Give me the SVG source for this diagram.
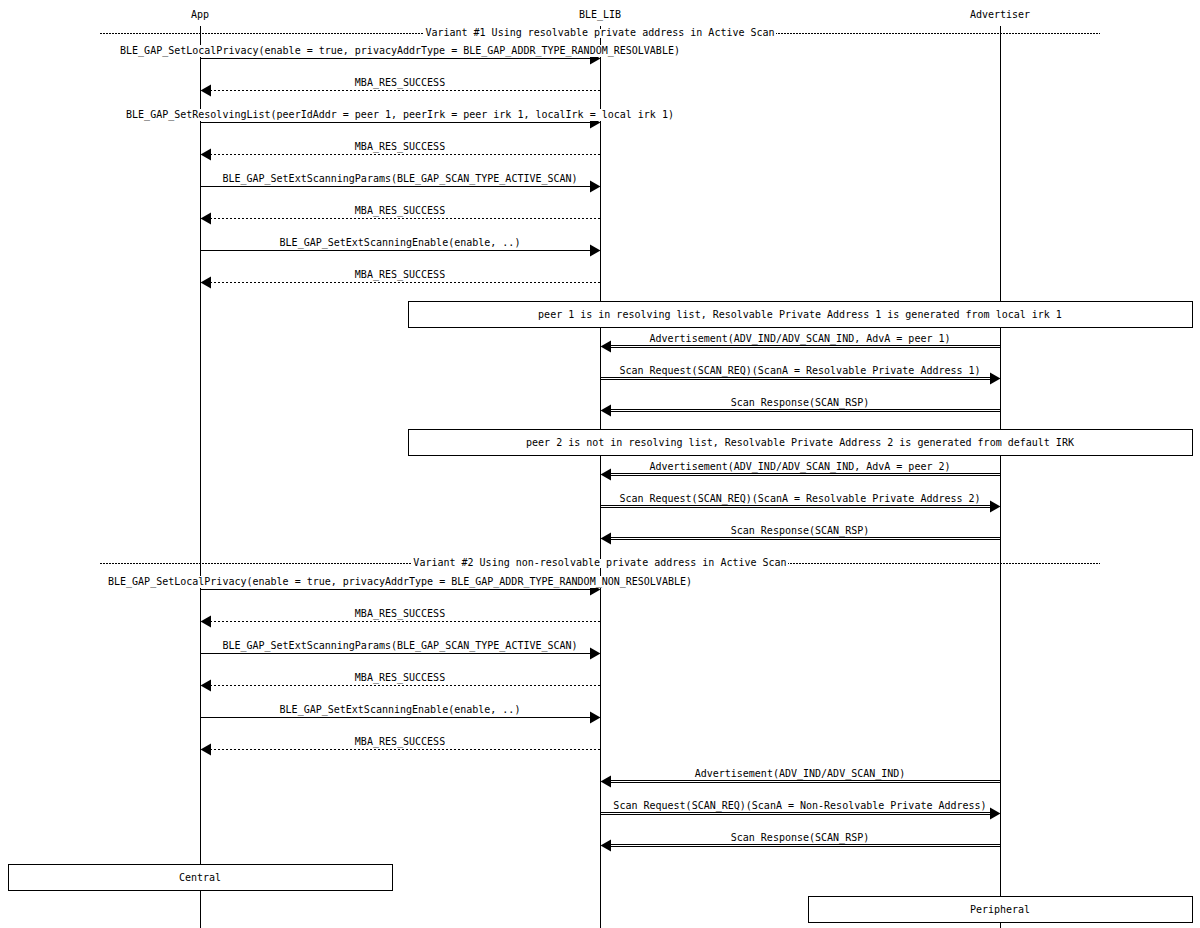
<svg xmlns="http://www.w3.org/2000/svg" width="1200" height="928" viewBox="0 0 1200 928">
<style>
text{font-family:"DejaVu Sans Mono","Liberation Mono",monospace;font-size:10px;fill:#000;text-anchor:middle}
.life{stroke:#000;stroke-width:1}
.sol{stroke:#000;stroke-width:1;fill:none}
.dash{stroke:#000;stroke-width:1;fill:none;stroke-dasharray:2,2}
.div{stroke:#000;stroke-width:1;fill:none;stroke-dasharray:2,1}
.bg{fill:#fff}
.box{fill:#fff;stroke:#000;stroke-width:1}
.head{fill:#000}
</style>
<rect width="1200" height="928" fill="#fff"/>
<g id="lifelines">
<g id="App"><text x="200" y="18">App</text><line class="life" x1="200.5" y1="26" x2="200.5" y2="928"/></g>
<g id="BLE_LIB"><text x="600" y="18">BLE_LIB</text><line class="life" x1="600.5" y1="26" x2="600.5" y2="928"/></g>
<g id="Advertiser"><text x="1000" y="18">Advertiser</text><line class="life" x1="1000.5" y1="26" x2="1000.5" y2="928"/></g>
</g>
<g id="divider1">
<line class="div" x1="100" y1="33.5" x2="1100" y2="33.5"/>
<rect class="bg" x="424" y="29" width="352" height="9"/>
<text x="600" y="36">Variant #1 Using resolvable private address in Active Scan</text>
</g>
<g id="connectors">
<line class="sol" x1="200.5" y1="58.5" x2="592" y2="58.5"/>
<polygon class="head" points="590,52.5 600.5,58.5 590,64.5"/>
<rect class="bg" x="118" y="45" width="564" height="12"/>
<text x="400" y="54">BLE_GAP_SetLocalPrivacy(enable = true, privacyAddrType = BLE_GAP_ADDR_TYPE_RANDOM_RESOLVABLE)</text>

<line class="dash" x1="600" y1="90.5" x2="208" y2="90.5"/>
<polygon class="head" points="211,84.5 200.5,90.5 211,96.5"/>
<text x="400" y="86">MBA_RES_SUCCESS</text>

<line class="sol" x1="200.5" y1="122.5" x2="592" y2="122.5"/>
<polygon class="head" points="590,116.5 600.5,122.5 590,128.5"/>
<rect class="bg" x="124" y="109" width="552" height="12"/>
<text x="400" y="118">BLE_GAP_SetResolvingList(peerIdAddr = peer 1, peerIrk = peer irk 1, localIrk = local irk 1)</text>

<line class="dash" x1="600" y1="154.5" x2="208" y2="154.5"/>
<polygon class="head" points="211,148.5 200.5,154.5 211,160.5"/>
<text x="400" y="150">MBA_RES_SUCCESS</text>

<line class="sol" x1="200.5" y1="186.5" x2="592" y2="186.5"/>
<polygon class="head" points="590,180.5 600.5,186.5 590,192.5"/>
<text x="400" y="182">BLE_GAP_SetExtScanningParams(BLE_GAP_SCAN_TYPE_ACTIVE_SCAN)</text>

<line class="dash" x1="600" y1="218.5" x2="208" y2="218.5"/>
<polygon class="head" points="211,212.5 200.5,218.5 211,224.5"/>
<text x="400" y="214">MBA_RES_SUCCESS</text>

<line class="sol" x1="200.5" y1="250.5" x2="592" y2="250.5"/>
<polygon class="head" points="590,244.5 600.5,250.5 590,256.5"/>
<text x="400" y="246">BLE_GAP_SetExtScanningEnable(enable, ..)</text>

<line class="dash" x1="600" y1="282.5" x2="208" y2="282.5"/>
<polygon class="head" points="211,276.5 200.5,282.5 211,288.5"/>
<text x="400" y="278">MBA_RES_SUCCESS</text>

<line class="sol" x1="1000" y1="345.5" x2="608" y2="345.5"/>
<line class="sol" x1="1000" y1="347.5" x2="608" y2="347.5"/>
<polygon class="head" points="611,340.5 600.5,346.5 611,352.5"/>
<text x="800" y="341.5">Advertisement(ADV_IND/ADV_SCAN_IND, AdvA = peer 1)</text>

<line class="sol" x1="601" y1="377.5" x2="992" y2="377.5"/>
<line class="sol" x1="601" y1="379.5" x2="992" y2="379.5"/>
<polygon class="head" points="990,372.5 1000.5,378.5 990,384.5"/>
<text x="800" y="373.5">Scan Request(SCAN_REQ)(ScanA = Resolvable Private Address 1)</text>

<line class="sol" x1="1000" y1="409.5" x2="608" y2="409.5"/>
<line class="sol" x1="1000" y1="411.5" x2="608" y2="411.5"/>
<polygon class="head" points="611,404.5 600.5,410.5 611,416.5"/>
<text x="800" y="405.5">Scan Response(SCAN_RSP)</text>

<line class="sol" x1="1000" y1="473.5" x2="608" y2="473.5"/>
<line class="sol" x1="1000" y1="475.5" x2="608" y2="475.5"/>
<polygon class="head" points="611,468.5 600.5,474.5 611,480.5"/>
<text x="800" y="469.5">Advertisement(ADV_IND/ADV_SCAN_IND, AdvA = peer 2)</text>

<line class="sol" x1="601" y1="505.5" x2="992" y2="505.5"/>
<line class="sol" x1="601" y1="507.5" x2="992" y2="507.5"/>
<polygon class="head" points="990,500.5 1000.5,506.5 990,512.5"/>
<text x="800" y="501.5">Scan Request(SCAN_REQ)(ScanA = Resolvable Private Address 2)</text>

<line class="sol" x1="1000" y1="537.5" x2="608" y2="537.5"/>
<line class="sol" x1="1000" y1="539.5" x2="608" y2="539.5"/>
<polygon class="head" points="611,532.5 600.5,538.5 611,544.5"/>
<text x="800" y="533.5">Scan Response(SCAN_RSP)</text>

<line class="sol" x1="200.5" y1="589.5" x2="592" y2="589.5"/>
<polygon class="head" points="590,583.5 600.5,589.5 590,595.5"/>
<rect class="bg" x="106" y="576" width="588" height="12"/>
<text x="400" y="585">BLE_GAP_SetLocalPrivacy(enable = true, privacyAddrType = BLE_GAP_ADDR_TYPE_RANDOM_NON_RESOLVABLE)</text>

<line class="dash" x1="600" y1="621.5" x2="208" y2="621.5"/>
<polygon class="head" points="211,615.5 200.5,621.5 211,627.5"/>
<text x="400" y="617">MBA_RES_SUCCESS</text>

<line class="sol" x1="200.5" y1="653.5" x2="592" y2="653.5"/>
<polygon class="head" points="590,647.5 600.5,653.5 590,659.5"/>
<text x="400" y="649">BLE_GAP_SetExtScanningParams(BLE_GAP_SCAN_TYPE_ACTIVE_SCAN)</text>

<line class="dash" x1="600" y1="685.5" x2="208" y2="685.5"/>
<polygon class="head" points="211,679.5 200.5,685.5 211,691.5"/>
<text x="400" y="681">MBA_RES_SUCCESS</text>

<line class="sol" x1="200.5" y1="717.5" x2="592" y2="717.5"/>
<polygon class="head" points="590,711.5 600.5,717.5 590,723.5"/>
<text x="400" y="713">BLE_GAP_SetExtScanningEnable(enable, ..)</text>

<line class="dash" x1="600" y1="749.5" x2="208" y2="749.5"/>
<polygon class="head" points="211,743.5 200.5,749.5 211,755.5"/>
<text x="400" y="745">MBA_RES_SUCCESS</text>

<line class="sol" x1="1000" y1="780.5" x2="608" y2="780.5"/>
<line class="sol" x1="1000" y1="782.5" x2="608" y2="782.5"/>
<polygon class="head" points="611,775.5 600.5,781.5 611,787.5"/>
<text x="800" y="776.5">Advertisement(ADV_IND/ADV_SCAN_IND)</text>

<line class="sol" x1="601" y1="812.5" x2="992" y2="812.5"/>
<line class="sol" x1="601" y1="814.5" x2="992" y2="814.5"/>
<polygon class="head" points="990,807.5 1000.5,813.5 990,819.5"/>
<text x="800" y="808.5">Scan Request(SCAN_REQ)(ScanA = Non-Resolvable Private Address)</text>

<line class="sol" x1="1000" y1="844.5" x2="608" y2="844.5"/>
<line class="sol" x1="1000" y1="846.5" x2="608" y2="846.5"/>
<polygon class="head" points="611,839.5 600.5,845.5 611,851.5"/>
<text x="800" y="840.5">Scan Response(SCAN_RSP)</text>
</g>
<g id="note1">
<rect class="box" x="408.5" y="301.5" width="784" height="26"/>
<text x="800" y="318">peer 1 is in resolving list, Resolvable Private Address 1 is generated from local irk 1</text>
</g>
<g id="note2">
<rect class="box" x="408.5" y="429.5" width="784" height="26"/>
<text x="800" y="446">peer 2 is not in resolving list, Resolvable Private Address 2 is generated from default IRK</text>
</g>
<g id="divider2">
<line class="div" x1="100" y1="563.5" x2="1100" y2="563.5"/>
<rect class="bg" x="412" y="559" width="376" height="9"/>
<text x="600" y="566">Variant #2 Using non-resolvable private address in Active Scan</text>
</g>
<g id="Central">
<rect class="box" x="8.5" y="864.5" width="384" height="26"/>
<text x="200" y="881">Central</text>
</g>
<g id="Peripheral">
<rect class="box" x="808.5" y="896.5" width="384" height="26"/>
<text x="1000" y="913">Peripheral</text>
</g>
</svg>
